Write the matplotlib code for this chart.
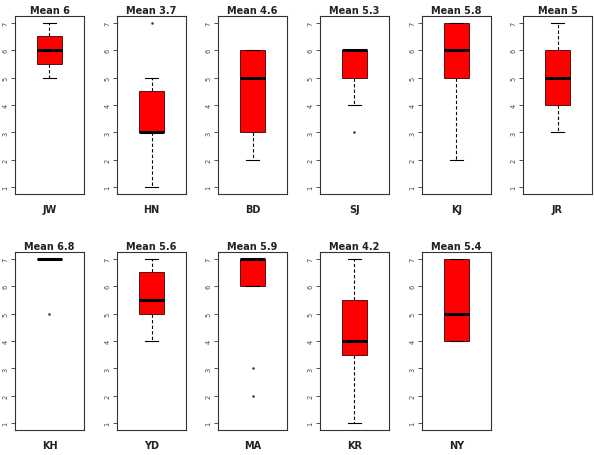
import matplotlib
matplotlib.use("Agg")
import matplotlib.pyplot as plt

# Per-person summary
names = ["JW", "HN", "BD", "SJ", "KJ", "JR", "KH", "YD", "MA", "KR", "NY"]
means = ["6", "3.7", "4.6", "5.3", "5.8", "5", "6.8", "5.6", "5.9", "4.2", "5.4"]
whislo = [5, 1, 2, 4, 2, 3, 7, 4, 6, 1, 4]
q1 = [5.5, 3, 3, 5, 5, 4, 7, 5, 6, 3.5, 4]
med = [6, 3, 5, 6, 6, 5, 7, 5.5, 7, 4, 5]
q3 = [6.5, 4.5, 6, 6, 7, 6, 7, 6.5, 7, 5.5, 7]
whishi = [7, 5, 6, 6, 7, 7, 7, 7, 7, 7, 7]
fliers = [[], [7], [], [3], [], [], [5], [], [3, 2], [], []]

W, H = 594, 456
fig = plt.figure(figsize=(W / 100, H / 100), dpi=100)

col_left = [15, 117, 218, 320, 422, 523]
row_top = [17, 253]
pw, ph = 69, 178

for i, name in enumerate(names):
    r, c = divmod(i, 6)
    x0 = col_left[c]
    y0 = row_top[r]
    ax = fig.add_axes([x0 / W, 1 - (y0 + ph) / H, pw / W, ph / H])
    stats = [dict(whislo=whislo[i], q1=q1[i], med=med[i], q3=q3[i],
                  whishi=whishi[i], fliers=fliers[i])]
    ax.bxp(stats, positions=[1], widths=0.4, patch_artist=True,
           showfliers=True,
           boxprops=dict(facecolor="red", edgecolor="#400000", linewidth=0.6),
           medianprops=dict(color="black", linewidth=2.2, solid_capstyle="butt"),
           whiskerprops=dict(color="black", linestyle=(0, (3, 2)), linewidth=0.8),
           capprops=dict(color="black", linewidth=0.8),
           capwidths=0.2,
           flierprops=dict(marker="o", markersize=0.8, markerfacecolor="#333333",
                           markeredgecolor="#333333", linestyle="none"))
    ax.set_xlim(0.46, 1.54)
    ax.set_ylim(0.76, 7.24)
    ax.set_xticks([])
    ax.set_yticks(range(1, 8))
    ax.set_yticklabels([str(v) for v in range(1, 8)], rotation=90,
                       va="center", fontsize=4.8, color="#444444")
    ax.tick_params(axis="y", length=3, width=0.6, pad=1.5, color="#333333")
    for s in ax.spines.values():
        s.set_linewidth(0.8)
        s.set_color("#333333")
    ax.set_title("Mean " + means[i], fontsize=7, fontweight="bold", pad=2.5,
                 color="#222222")
    ax.set_xlabel(name, fontsize=7, fontweight="bold", labelpad=7,
                  color="#222222")

fig.savefig("out.png", dpi=100)
